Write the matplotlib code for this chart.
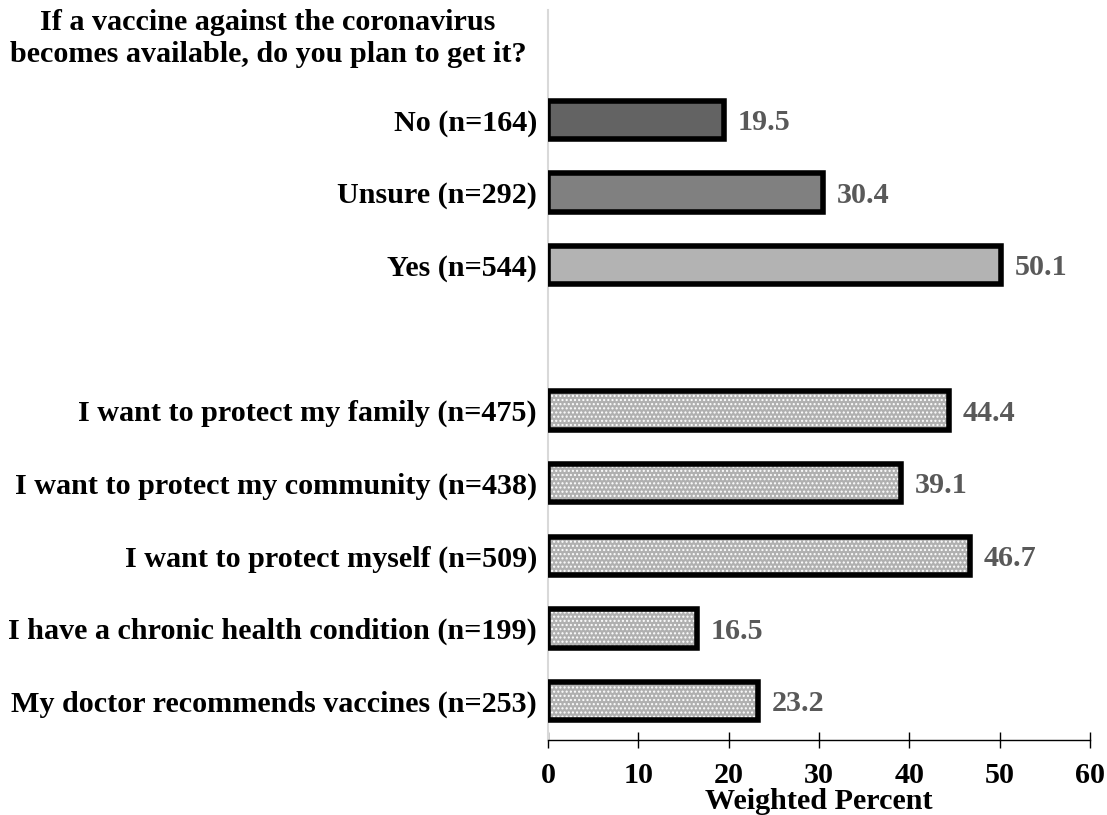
import matplotlib.pyplot as plt

plt.rcParams['font.family'] = ['Liberation Serif', 'DejaVu Serif']
plt.rcParams['font.weight'] = 'bold'

# данные
top_labels = ['No (n=164)', 'Unsure (n=292)', 'Yes (n=544)']
top_values = [19.5, 30.4, 50.1]
top_colors = ['#636363', '#808080', '#b3b3b3']

reason_labels = ['I want to protect my family (n=475)',
                 'I want to protect my community (n=438)',
                 'I want to protect myself (n=509)',
                 'I have a chronic health condition (n=199)',
                 'My doctor recommends vaccines (n=253)']
reason_values = [44.4, 39.1, 46.7, 16.5, 23.2]

title = 'If a vaccine against the coronavirus\nbecomes available, do you plan to get it?'

fs = 21.7

# позиции: сверху вниз, одна пустая строка между группами
top_pos = list(range(len(top_labels)))
reason_pos = [len(top_labels) + 1 + i for i in range(len(reason_labels))]

fig = plt.figure(figsize=(11.07, 8.15), dpi=100)
ax = fig.add_axes([548 / 1107, 1 - 740 / 815, (1090 - 548) / 1107, 730 / 815])

h = 0.53
ax.barh(top_pos, top_values, height=h, color=top_colors, edgecolor='black', linewidth=4, zorder=3)

# точечная заливка для причин
ax.barh(reason_pos, reason_values, height=h, color='#b0b0b0', edgecolor='white',
        hatch='....', linewidth=0, zorder=3)
ax.barh(reason_pos, reason_values, height=h, fill=False, edgecolor='black', linewidth=4, zorder=4)

for p, v in zip(top_pos + reason_pos, top_values + reason_values):
    ax.annotate(f'{v:.1f}', (v, p), xytext=(10, -2), textcoords='offset points',
                va='center', ha='left', fontsize=fs, fontweight='bold', color='#595959')

ax.set_yticks(top_pos + reason_pos)
ax.set_yticklabels(top_labels + reason_labels, fontsize=fs, fontweight='bold')
ax.set_ylim(8 + 39 / 72.7, -110 / 72.7)
ax.set_xlim(0, 60)
ax.set_xticks(range(0, 61, 10))
ax.tick_params(axis='y', length=0, pad=8)
ax.tick_params(axis='x', direction='inout', length=12, width=1, pad=10, labelsize=fs)
for lab in ax.get_xticklabels():
    lab.set_fontweight('bold')

ax.spines['top'].set_visible(False)
ax.spines['right'].set_visible(False)
ax.spines['left'].set_color('#d9d9d9')
ax.spines['left'].set_linewidth(1.5)
ax.spines['bottom'].set_linewidth(1)

ax.set_xlabel('Weighted Percent', fontsize=fs, fontweight='bold', labelpad=-1)

fig.text(268 / 1107, 1 - 9 / 815, title, ha='center', va='top', fontsize=fs,
         fontweight='bold', linespacing=1.25)

fig.savefig('out.png', dpi=100)
